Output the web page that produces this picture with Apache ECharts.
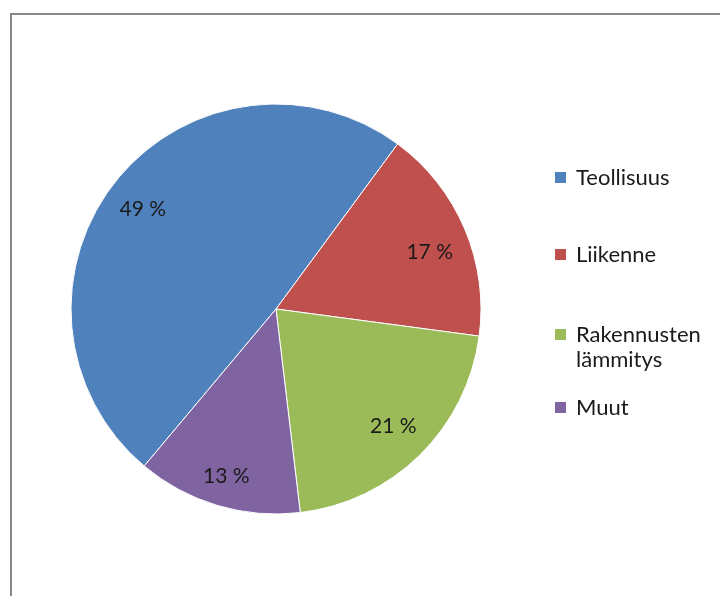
<!DOCTYPE html>
<html>
<head>
<meta charset="utf-8">
<script src="https://cdn.jsdelivr.net/npm/echarts@6/dist/echarts.min.js"></script>
<style>
  html, body { margin: 0; padding: 0; background: #fff; }
  #chart { width: 720px; height: 596px; }
</style>
</head>
<body>
<div id="chart"></div>
<script>
// Energy use by sector, percent shares
const categories = ['Teollisuus', 'Liikenne', 'Rakennusten lämmitys', 'Muut'];
const shares = [49, 17, 21, 13];
const colors = ['#4F81BD', '#C0504D', '#9BBB59', '#8064A2'];

const FONT = 'Lato, "Noto Sans", sans-serif';
const R = 205;
const CENTER = [276, 309];
const LINE_H = 25;
// small nudges so each percentage sits where it reads best in its slice
const LABEL_NUDGE = [[-2, 4], [0, 8], [0, -2], [-2, 7]];

const pieData = categories.map((name, i) => ({
  name: name,
  value: shares[i],
  itemStyle: { color: colors[i] }
}));

// Legend entry text: long names wrap onto a second line; a leading blank
// line keeps the swatch level with the first line of the wrapped name.
function legendText(name) {
  return name.indexOf(' ') >= 0 ? '\n' + name.replace(' ', '\n') : name;
}

// one legend block per entry so each sits at its own height
const legendTops = [160, 237, 292, 390];
const legends = categories.map((name, i) => ({
  data: [name],
  orient: 'vertical',
  left: 548,
  top: legendTops[i],
  icon: 'rect',
  itemWidth: 13,
  itemHeight: 13,
  selectedMode: false,
  textStyle: {
    fontFamily: FONT,
    fontSize: 22,
    color: '#1a1a1a',
    lineHeight: LINE_H,
    padding: [0, 0, 0, 4]
  },
  formatter: legendText
}));

const chart = echarts.init(document.getElementById('chart'), null, { renderer: 'canvas' });
chart.setOption({
  animation: false,
  backgroundColor: '#ffffff',
  graphic: [{
    type: 'rect',
    shape: { x: 11, y: 14, width: 760, height: 640 },
    style: { fill: 'none', stroke: '#878787', lineWidth: 2 },
    silent: true
  }],
  legend: legends,
  series: [
    {
      type: 'pie',
      center: CENTER,
      radius: [0, R],
      startAngle: 230,
      clockwise: true,
      label: { show: false },
      labelLine: { show: false },
      itemStyle: { borderColor: '#ffffff', borderWidth: 1 },
      emphasis: { disabled: true },
      data: pieData
    },
    {
      // transparent ring that carries the percentage labels at ~0.8 r
      type: 'pie',
      center: CENTER,
      radius: [R * 0.6, R],
      startAngle: 230,
      clockwise: true,
      silent: true,
      itemStyle: { color: 'rgba(0,0,0,0)' },
      label: {
        show: true,
        position: 'inside',
        formatter: p => p.value + ' %',
        fontFamily: FONT,
        fontSize: 21,
        color: '#1a1a1a'
      },
      labelLine: { show: false },
      emphasis: { disabled: true },
      data: categories.map((name, i) => ({
        name: name,
        value: shares[i],
        label: { offset: LABEL_NUDGE[i] }
      }))
    }
  ]
});
</script>
</body>
</html>
